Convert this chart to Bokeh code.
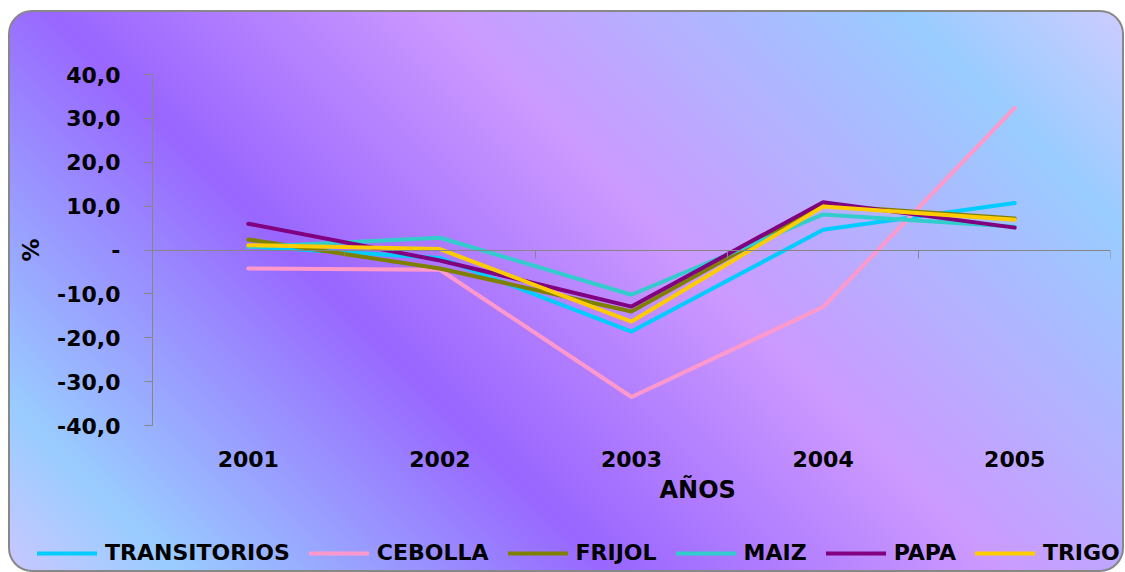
from bokeh.plotting import figure
from bokeh.models import FixedTicker, LinearAxis, Range1d, Legend, LegendItem, Title
from bokeh.layouts import column
from bokeh.embed import file_html
from bokeh.resources import INLINE

# ---- data ----
years = ["2001", "2002", "2003", "2004", "2005"]
transitorios = [0.8, -1.8, -18.6, 4.6, 10.7]
cebolla = [-4.2, -4.5, -33.5, -13.0, 32.4]
frijol = [2.4, -4.2, -14.0, 10.2, 7.2]
maiz = [0.7, 2.8, -10.2, 8.1, 5.3]
papa = [6.0, -2.4, -12.9, 10.9, 5.1]
trigo = [1.1, 0.2, -16.3, 9.9, 6.9]

series_names = ["TRANSITORIOS", "CEBOLLA", "FRIJOL", "MAIZ", "PAPA", "TRIGO"]
series_values = [transitorios, cebolla, frijol, maiz, papa, trigo]
series_colors = ["#00CCFF", "#FF99CC", "#808000", "#33CCCC", "#800080", "#FFCC00"]

y_ticks = [-40, -30, -20, -10, 0, 10, 20, 30, 40]
y_tick_labels = ["-40,0", "-30,0", "-20,0", "-10,0", "-", "10,0", "20,0", "30,0", "40,0"]

x_title = "AÑOS"
y_title = "%"

FONT = "DejaVu Sans"
GRAY = "#868686"

n = len(years)
centers = [i + 0.5 for i in range(n)]
bounds = list(range(n + 1))

# ---------------- main chart ----------------
p = figure(
    x_range=Range1d(0, n), y_range=Range1d(-40, 40),
    frame_width=958, frame_height=351,
    min_border_left=142, min_border_right=12, min_border_top=62, min_border_bottom=105,
    output_backend="svg", toolbar_location=None,
)
p.frame_align = False
p.border_fill_alpha = 0
p.background_fill_alpha = 0
p.outline_line_color = None
p.grid.visible = False

ya = p.yaxis[0]
ya.ticker = FixedTicker(ticks=y_ticks)
ya.major_label_overrides = {t: l for t, l in zip(y_ticks, y_tick_labels)}
ya.axis_line_color = GRAY
ya.major_tick_line_color = GRAY
ya.major_tick_out = 8
ya.major_tick_in = 0
ya.minor_tick_out = 0
ya.minor_tick_in = 0
ya.major_label_standoff = 24
ya.major_label_text_font = FONT
ya.major_label_text_font_style = "bold"
ya.major_label_text_font_size = "22px"
ya.major_label_text_color = "black"
ya.axis_label = y_title
ya.axis_label_text_font = FONT
ya.axis_label_text_font_style = "bold"
ya.axis_label_text_font_size = "23px"
ya.axis_label_text_color = "black"
ya.axis_label_standoff = 10

xa = p.xaxis[0]
xa.ticker = FixedTicker(ticks=centers)
xa.major_label_overrides = {c: y for c, y in zip(centers, years)}
xa.axis_line_color = None
xa.major_tick_line_color = None
xa.minor_tick_line_color = None
xa.major_tick_out = 0
xa.major_tick_in = 0
xa.major_label_standoff = 25
xa.major_label_text_font = FONT
xa.major_label_text_font_style = "bold"
xa.major_label_text_font_size = "22px"
xa.major_label_text_color = "black"

# category axis crossing at zero (only boundary tick marks, no labels)
za = LinearAxis(fixed_location=0, ticker=FixedTicker(ticks=[], minor_ticks=bounds))
za.axis_line_color = GRAY
za.major_tick_line_color = None
za.minor_tick_line_color = GRAY
za.minor_tick_out = 8
za.minor_tick_in = 0
za.major_label_standoff = 0
p.add_layout(za, "below")

# x axis title (placed off-centre as in the original)
xt = Title(text=x_title, align="left", offset=507, standoff=8,
           text_font=FONT, text_font_style="bold", text_font_size="24px",
           text_color="black")
p.add_layout(xt, "below")

for name, vals, col in zip(series_names, series_values, series_colors):
    p.line(centers, vals, line_color=col, line_width=4, line_cap="round")

# ---------------- legend strip ----------------
leg = figure(width=1112, height=40, x_range=Range1d(0, 1), y_range=Range1d(0, 1),
             x_axis_type=None, y_axis_type=None, min_border=0,
             output_backend="svg", toolbar_location=None)
leg.frame_align = False
leg.border_fill_alpha = 0
leg.background_fill_alpha = 0
leg.outline_line_color = None
leg.grid.visible = False

items = []
for name, vals, col in zip(series_names, series_values, series_colors):
    r = leg.line(centers, vals, line_color=col, line_width=4, line_cap="round", visible=False)
    items.append(LegendItem(label=name, renderers=[r]))

lg = Legend(items=items, orientation="horizontal", location=(27, 5))
lg.padding = 0
lg.margin = 0
lg.spacing = 19
lg.glyph_width = 60
lg.glyph_height = 20
lg.label_standoff = 8
lg.background_fill_alpha = 0
lg.border_line_alpha = 0
lg.label_text_font = FONT
lg.label_text_font_style = "bold"
lg.label_text_font_size = "22px"
lg.label_text_color = "black"
leg.add_layout(lg)

layout = column(p, leg, spacing=0)
layout.styles = {
    "background": "linear-gradient(45deg, #c8c8ff 0%, #99ccff 10%, #9966ff 36%, #cc99ff 59%, #99ccff 87%, #ccccff 100%)",
    "border": "2px solid #888888",
    "border-radius": "24px",
    "margin-left": "8px",
    "margin-top": "10px",
}

open("out.html", "w").write(file_html(layout, INLINE))
